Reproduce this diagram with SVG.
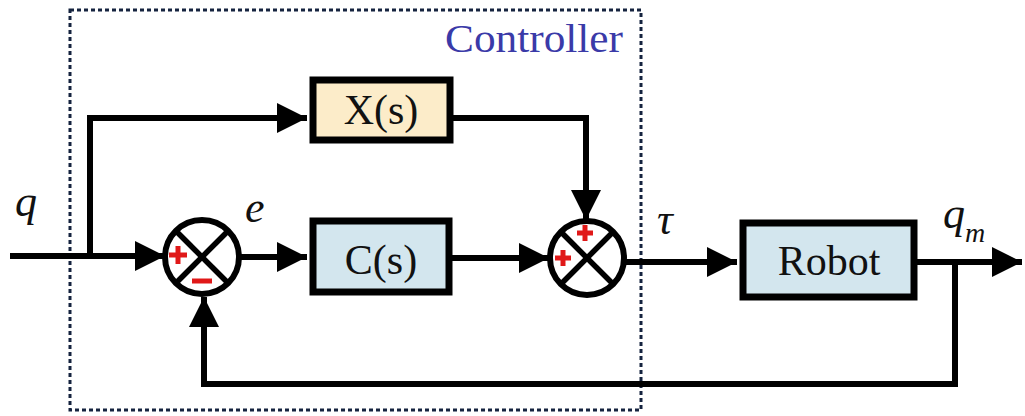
<svg xmlns="http://www.w3.org/2000/svg" width="1025" height="416" viewBox="0 0 1025 416">
  <defs>
    <marker id="arrow" viewBox="0 0 10 10" refX="10" refY="5" markerWidth="5.2" markerHeight="5" markerUnits="strokeWidth" orient="auto">
      <path d="M0,0 L10,5 L0,10 z" fill="#000"/>
    </marker>
    <style>
      .wire { fill: none; stroke: #000; stroke-width: 6; stroke-linejoin: miter; }
      .block { stroke: #000; stroke-width: 7; }
      .sum { fill: #fff; stroke: #000; stroke-width: 6; }
      .cross { stroke: #000; stroke-width: 5.5; }
      .sign { stroke: #e01818; stroke-width: 5; }
      .label { font-family: "Liberation Serif", "Times New Roman", "DejaVu Serif", serif; font-size: 42px; fill: #111; text-anchor: middle; }
      .var { font-family: "Liberation Serif", "Times New Roman", "DejaVu Serif", serif; font-style: italic; font-size: 44px; fill: #111; }
    </style>
  </defs>
  <rect width="1025" height="416" fill="#fff"/>

  <!-- controller boundary -->
  <g id="controller">
    <rect x="70" y="10" width="571" height="400" fill="none" stroke="#15233f" stroke-width="3" stroke-dasharray="4 3"/>
    <text x="623" y="52" font-family="Liberation Serif, Times New Roman, serif" font-size="41" fill="#3a3aa8" text-anchor="end" textLength="178" lengthAdjust="spacingAndGlyphs">Controller</text>
  </g>

  <!-- connectors -->
  <g id="connectors">
    <path class="wire" d="M10,256 H165" marker-end="url(#arrow)"/>
    <path class="wire" d="M90,256 V118 H307" marker-end="url(#arrow)"/>
    <path class="wire" d="M451,118 H586 V220" marker-end="url(#arrow)"/>
    <path class="wire" d="M239,257 H307" marker-end="url(#arrow)"/>
    <path class="wire" d="M452,258 H549" marker-end="url(#arrow)"/>
    <path class="wire" d="M624,262 H737" marker-end="url(#arrow)"/>
    <path class="wire" d="M917,262 H1022" marker-end="url(#arrow)"/>
    <path class="wire" d="M955,262 V384 H204 V297" marker-end="url(#arrow)"/>
  </g>

  <!-- sum junction 1 -->
  <g id="sum1">
    <circle class="sum" cx="202" cy="257" r="37"/>
    <line class="cross" x1="176" y1="231" x2="228" y2="283"/>
    <line class="cross" x1="228" y1="231" x2="176" y2="283"/>
    <line class="sign" x1="169" y1="255" x2="187" y2="255"/>
    <line class="sign" x1="178" y1="246" x2="178" y2="264"/>
    <line class="sign" x1="192" y1="281" x2="212" y2="281"/>
  </g>

  <!-- sum junction 2 -->
  <g id="sum2">
    <circle class="sum" cx="587" cy="258" r="37"/>
    <line class="cross" x1="561" y1="232" x2="613" y2="284"/>
    <line class="cross" x1="613" y1="232" x2="561" y2="284"/>
    <line class="sign" x1="577" y1="233" x2="593" y2="233"/>
    <line class="sign" x1="585" y1="225" x2="585" y2="241"/>
    <line class="sign" x1="555" y1="258" x2="571" y2="258"/>
    <line class="sign" x1="563" y1="250" x2="563" y2="266"/>
  </g>

  <!-- feedforward block -->
  <g id="Xs">
    <rect class="block" x="313" y="80" width="137" height="60" fill="#fcecc9"/>
    <text class="label" x="381" y="124">X(s)</text>
  </g>

  <!-- controller block -->
  <g id="Cs">
    <rect class="block" x="313" y="221" width="136" height="71" fill="#d3e6ee"/>
    <text class="label" x="381" y="274">C(s)</text>
  </g>

  <!-- plant block -->
  <g id="robot">
    <rect class="block" x="743" y="223" width="171" height="74" fill="#d3e6ee"/>
    <text class="label" x="829" y="275">Robot</text>
  </g>

  <!-- signal names -->
  <g id="labels">
    <text class="var" x="15" y="216">q</text>
    <text class="var" x="245" y="222">e</text>
    <text class="var" x="657" y="234">τ</text>
    <text class="var" x="943" y="228">q<tspan font-size="28" dy="14">m</tspan></text>
  </g>
</svg>
